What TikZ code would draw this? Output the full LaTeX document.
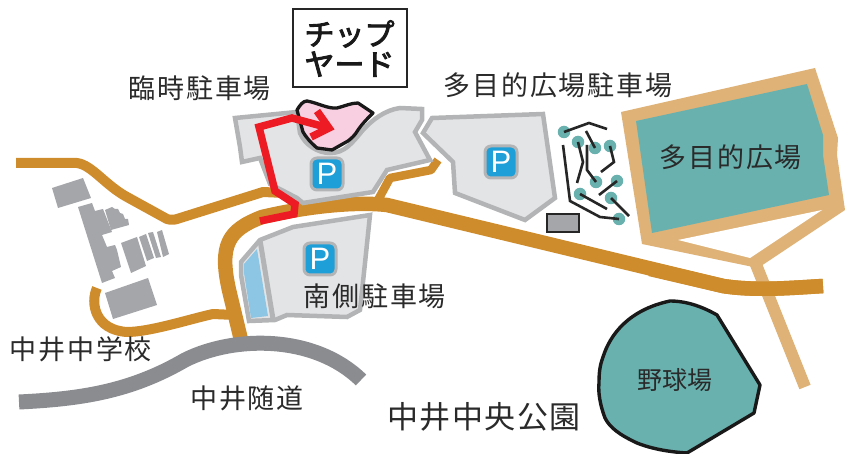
\documentclass[tikz,border=0pt]{standalone}
\usepackage{fontspec}
\setmainfont{Noto Sans CJK JP}
\setsansfont{Liberation Sans}
\definecolor{roadc}{HTML}{CE8C2C}
\definecolor{sandc}{HTML}{DFB277}
\definecolor{tealc}{HTML}{69B1AE}
\definecolor{lotc}{HTML}{E3E4E6}
\definecolor{lotl}{HTML}{B3B4B6}
\definecolor{bldg}{HTML}{A5A6A9}
\definecolor{tunnel}{HTML}{8B8C90}
\definecolor{redc}{HTML}{ED1C24}
\definecolor{pinkc}{HTML}{F8CFE0}
\definecolor{bluec}{HTML}{1F9FD8}
\definecolor{pond}{HTML}{8CC6E4}
\definecolor{txt}{HTML}{2A2A2A}
\tikzset{x=1pt,y=-1pt,
 road/.style={draw=roadc,line width=14.5pt,line join=round},
 sroad/.style={draw=roadc,line width=10pt,line join=round},
 lot/.style={draw=lotl,fill=lotc,line width=4.5pt,line join=miter},
 bld/.style={fill=bldg,draw=none},
 lbl/.style={text=txt,inner sep=0pt,font=\fontsize{27}{27}\selectfont\addfontfeature{LetterSpace=6.5}},
 pbg/.style={draw=lotl,fill=bluec,line width=3pt,rounded corners=6pt,minimum size=32pt,inner sep=0pt,text=white,font=\sffamily\fontsize{31}{31}\selectfont},
 tpath/.style={draw=black!85,line width=2.6pt},
 tree/.style={circle,fill=tealc,minimum size=12.5pt,inner sep=0pt},
 redl/.style={redc,line width=7.5pt,line join=miter}}
\begin{document}
\begin{tikzpicture}
\useasboundingbox (0,0) rectangle (854,454);
% roads under the lots
\draw[sroad] (16,163) -- (77,163) .. controls (92,165) and (105,185) .. (127,197) -- (167,219) .. controls (170,220) and (174,220) .. (177,219) -- (263,192) -- (285,193);
\draw[sroad] (97,288) .. controls (90,303) and (95,330) .. (127,332) .. controls (150,332) and (190,319) .. (213,314) -- (235,315);
\draw[sroad,line width=8.5pt] (378,200) -- (390,178) -- (431,170) -- (438,160);
\draw[road] (242,344) -- (229,290) .. controls (219,245) and (228,230) .. (262,217) .. controls (300,208) and (350,201) .. (387,205) -- (723,286) .. controls (755,291) and (790,288) .. (823,286);
% south lot
\path[lot] (260,240) -- (293,227) -- (370,215) -- (365,263) -- (360,310) -- (347,317) -- (287,315) -- (275,320) -- (249,321) -- (241,275) -- (241,262) -- cycle;
\fill[pond] (257,249) -- (244,264) -- (244,273) -- (251,318) -- (268,316) -- cycle;
\draw[lotl,line width=5pt] (260,240) -- (273,319);
% north lot
\path[lot] (235,118) -- (297,112) -- (300,133) .. controls (305,145) and (318,153) .. (330,153) .. controls (345,153) and (352,143) .. (363,130) .. controls (372,120) and (385,110) .. (400,108) -- (422,109) -- (422,120) -- (415,132) -- (430,160) -- (387,170) -- (373,192) -- (303,203) -- (297,198) -- (270,184) -- (260,158) -- (242,162) -- (240,147) -- cycle;
% east lot
\path[lot] (432,118) -- (543,114) -- (555,198) -- (525,220) -- (455,193) -- (453,162) -- (423,133) -- cycle;
% chip yard
\path[draw=black!90,fill=pinkc,line width=3.3pt,line join=round] (297,110) .. controls (300,105) and (303,101) .. (307,101) .. controls (318,103) and (328,109) .. (337,108) .. controls (345,106) and (351,103) .. (358,103) -- (373,113) .. controls (367,119) and (362,124) .. (358,130) .. controls (355,135) and (352,138) .. (348,141) -- (332,150) -- (317,148) .. controls (310,142) and (306,137) .. (303,132) -- cycle;
% buildings
\fill[bld] (52,188) -- (83,178) -- (91,198) -- (58,208) -- cycle;
\fill[bld] (78,207) -- (92,203) -- (95,211) -- (103,209) -- (112,232) -- (102,235) -- (107,247) -- (115,245) -- (117,250) -- (121,267) -- (112,271) -- (115,278) -- (102,283) -- cycle;
\fill[bld] (105,210) -- (112,207) -- (115,209) -- (118,209) -- (120,213) -- (123,214) -- (125,219) -- (128,219) -- (129,225) -- (111,230) -- cycle;
\fill[bld] (121,243) -- (137,237) -- (146,266) -- (131,273) -- cycle;
\fill[bld] (139,237) -- (146,234) -- (154,258) -- (147,261) -- cycle;
\fill[bld] (148,233) -- (153,232) -- (161,257) -- (156,258) -- cycle;
\fill[bld] (157,232) -- (162,230) -- (169,254) -- (163,257) -- cycle;
\fill[bld] (105,293) -- (148,278) -- (157,305) -- (113,319) -- cycle;
% tunnel road
\draw[tunnel,line width=15pt] (19,402) .. controls (80,399) and (130,392) .. (185,360) .. controls (235,335) and (315,335) .. (361,380);
% sports ground
\fill[sandc] (621,112) -- (815,68) -- (838,138) -- (837,155) -- (845,210) -- (758,268) -- (642,244) -- cycle;
\fill[tealc] (636,121) -- (807,84) -- (823,135) -- (823,155) -- (829,195) -- (652,233) -- cycle;
\fill[white] (678,240) -- (822,210) -- (750,258) -- cycle;
\draw[sandc,line width=12pt] (755,262) -- (805,387);
\draw[road] (650,269) -- (723,286) .. controls (755,291) and (790,288) .. (823,286);
% ballpark
\path[draw=black!90,fill=tealc,line width=3.4pt,line join=round] (670,301) .. controls (687,301) and (703,307) .. (717,315) -- (760,385) -- (754,413) -- (687,453) .. controls (670,452) and (652,449) .. (637,443) .. controls (620,435) and (610,428) .. (605,418) .. controls (600,405) and (598,392) .. (599,383) .. controls (599,372) and (600,365) .. (603,357) .. controls (610,335) and (628,310) .. (670,301) -- cycle;
% trees
\node[tree] (t1) at (564,132) {};
\node[tree] (t2) at (578,142) {};
\node[tree] (t3) at (595,148) {};
\node[tree] (t4) at (610,146) {};
\node[tree] (t5) at (596,182) {};
\node[tree] (t6) at (617,181) {};
\node[tree] (t7) at (580,194) {};
\node[tree] (t8) at (611,198) {};
\node[tree] (t9) at (619,219) {};
\draw[tpath] (t1.center) -- (589,123) -- (607,129);
\draw[tpath] (586,131) -- (t3.center);
\draw[tpath] (t2.center) -- (583,162) -- (577,183);
\draw[tpath] (587,145) -- (587,170) -- (t5.center);
\draw[tpath] (t4.center) -- (614,162) -- (601,172);
\draw[tpath] (599,195) -- (t6.center);
\draw[tpath] (t7.center) -- (607,209);
\draw[tpath] (t8.center) -- (629,216);
\draw[tpath] (563,145) -- (570,201) -- (600,217) -- (t9.center);
% shed
\node[draw=black!85,fill=bldg,line width=2.6pt,minimum width=32pt,minimum height=18pt,inner sep=0pt] (shed) at (563,223) {};
% P signs
\node[pbg] (p1) at (327,174) {P};
\node[pbg] (p2) at (501,162) {P};
\node[pbg] (p3) at (320,259) {P};
% red arrow
\coordinate (r0) at (260,221);
\coordinate (r1) at (294,214);
\coordinate (r2) at (295,204);
\coordinate (r3) at (275,191);
\coordinate (r4) at (259,127);
\coordinate (r5) at (292,118);
\coordinate (r6) at (329,128);
\draw[redl] (r0) -- (r1) -- (r2) -- (r3) -- (r4) -- (r5) -- (r6);
\draw[redl] (317,111) -- (r6) -- (311,137);
% labels
\node[draw=black!85,fill=white,line width=2pt,minimum width=114pt,minimum height=78pt,inner sep=0pt,align=center,font=\fontsize{30}{30}\selectfont\addfontfeature{FakeBold=3},text=black!90] (chip) at (349.5,48.5) {チップ\\ヤード};
\node[lbl] (a) at (200,88) {臨時駐車場};
\node[lbl] (b) at (558,85) {多目的広場駐車場};
\node[lbl] (c) at (731,157) {多目的広場};
\node[lbl] (d) at (375,296) {南側駐車場};
\node[lbl] (e) at (81,349) {中井中学校};
\node[lbl] (f) at (247,398) {中井随道};
\node[lbl,font=\fontsize{31}{31}\selectfont\addfontfeature{LetterSpace=5}] (g) at (484,417) {中井中央公園};
\node[lbl,font=\fontsize{25}{25}\selectfont] (h) at (675,380) {野球場};
\end{tikzpicture}
\end{document}
